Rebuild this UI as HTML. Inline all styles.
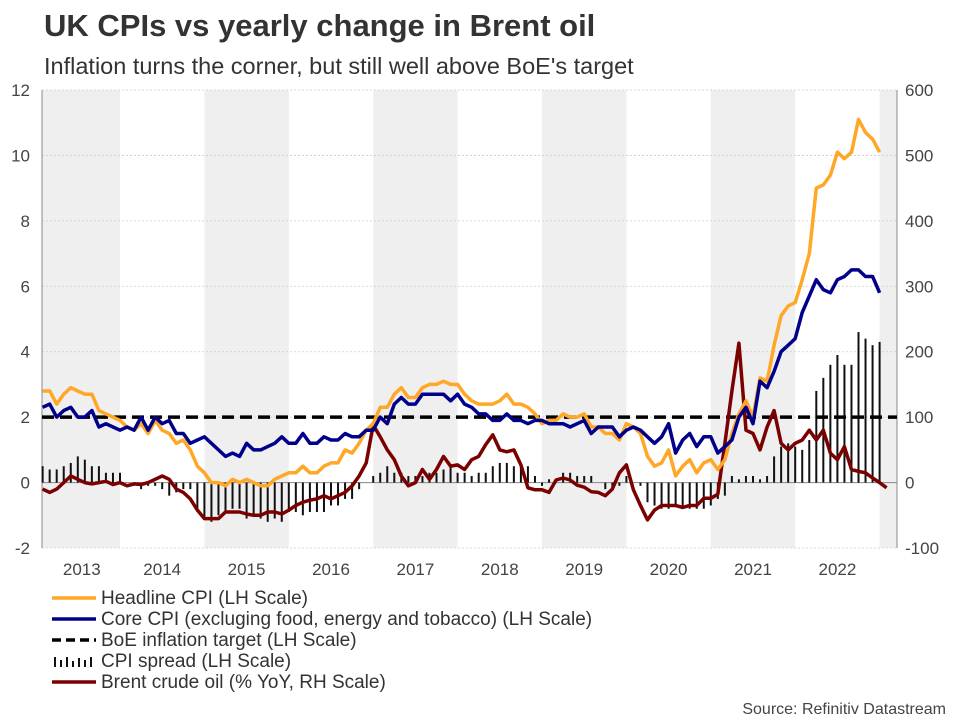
<!DOCTYPE html>
<html><head><meta charset="utf-8"><style>
body{margin:0;background:#fff;font-family:"Liberation Sans",Arial,sans-serif;}
#wrap{position:relative;width:960px;height:720px;overflow:hidden;}
</style></head><body>
<div id="wrap">
<svg id="chart" width="960" height="720" style="position:absolute;left:0;top:0;font-family:'Liberation Sans',Arial,sans-serif">
<text x="44" y="36" font-size="31" font-weight="bold" fill="#333">UK CPIs vs yearly change in Brent oil</text>
<text x="44" y="74" font-size="23.5" fill="#333">Inflation turns the corner, but still well above BoE's target</text>
<text x="946" y="714" font-size="16" fill="#444" text-anchor="end">Source: Refinitiv Datastream</text>
</svg>
</div>
<script>
// Monthly data, index 0 = Jan 2013
const years = ["2013","2014","2015","2016","2017","2018","2019","2020","2021","2022"];
const leftTicks = [-2,0,2,4,6,8,10,12];
const rightTicks = [-100,0,100,200,300,400,500,600];
const boeTarget = 2;
// Feb 2013 .. Jan 2023
const headline = [2.8,2.8,2.4,2.7,2.9,2.8,2.7,2.7,2.2,2.1,2.0,
1.9,1.7,1.6,1.8,1.5,1.9,1.6,1.5,1.2,1.3,1.0,0.5,
0.3,0.0,0.0,-0.1,0.1,0.0,0.1,0.0,-0.1,-0.1,0.1,0.2,
0.3,0.3,0.5,0.3,0.3,0.5,0.6,0.6,1.0,0.9,1.2,1.6,
1.8,2.3,2.3,2.7,2.9,2.6,2.6,2.9,3.0,3.0,3.1,3.0,
3.0,2.7,2.5,2.4,2.4,2.4,2.5,2.7,2.4,2.4,2.3,2.1,
1.8,1.9,1.9,2.1,2.0,2.0,2.1,1.7,1.7,1.5,1.5,1.3,
1.8,1.7,1.5,0.8,0.5,0.6,1.0,0.2,0.5,0.7,0.3,0.6,
0.7,0.4,0.7,1.5,2.1,2.5,2.0,3.2,3.1,4.2,5.1,5.4,
5.5,6.2,7.0,9.0,9.1,9.4,10.1,9.9,10.1,11.1,10.7,10.5,
10.1];
const core = [2.3,2.4,2.0,2.2,2.3,2.0,2.0,2.2,1.7,1.8,1.7,
1.6,1.7,1.6,2.0,1.6,2.0,1.8,1.9,1.5,1.5,1.2,1.3,
1.4,1.2,1.0,0.8,0.9,0.8,1.2,1.0,1.0,1.1,1.2,1.4,
1.2,1.2,1.5,1.2,1.2,1.4,1.3,1.3,1.5,1.4,1.4,1.6,
1.6,2.0,1.8,2.4,2.6,2.4,2.4,2.7,2.7,2.7,2.7,2.5,
2.7,2.4,2.3,2.1,2.1,1.9,1.9,2.1,1.9,1.9,1.8,1.9,
1.9,1.8,1.8,1.8,1.7,1.8,1.9,1.5,1.7,1.7,1.7,1.4,
1.6,1.7,1.6,1.4,1.2,1.4,1.8,0.9,1.3,1.5,1.1,1.4,
1.4,0.9,1.1,1.3,2.0,2.3,1.8,3.1,2.9,3.4,4.0,4.2,
4.4,5.2,5.7,6.2,5.9,5.8,6.2,6.3,6.5,6.5,6.3,6.3,
5.8];
// Brent % YoY, Feb 2013 .. Feb 2023
const brent = [-10,-15,-10,0,10,5,0,-2,0,2,-3,
0,-5,-2,-3,0,5,10,5,-10,-15,-25,-42,
-55,-55,-55,-45,-45,-45,-48,-50,-50,-45,-45,-48,
-42,-35,-30,-27,-25,-20,-25,-20,-15,-5,10,30,
88,70,50,35,10,-5,0,20,5,20,40,25,
27,20,35,40,58,73,50,47,50,27,-8,-11,
-11,-15,4,7,4,-4,-7,-14,-15,-20,-10,15,
27,-11,-35,-57,-42,-35,-35,-35,-38,-35,-35,-24,
-24,-18,60,140,213,80,75,50,85,110,60,50,
60,65,80,65,80,45,35,55,20,17,15,7,
0,-8];
const startIndex = 1; // Feb 2013

const svg = document.getElementById('chart');
const NS = 'http://www.w3.org/2000/svg';
const X0 = 35.6, YW = 84.4;
const PL = 42, PR = 897, PT = 90, PB = 548;
const xm = i => X0 + (i) * YW / 12;
const yL = v => PT + (12 - v) * (PB - PT) / 14;
const yR = v => PT + (600 - v) * (PB - PT) / 700;
function mk(tag, attrs, parent) {
  const e = document.createElementNS(NS, tag);
  for (const k in attrs) e.setAttribute(k, attrs[k]);
  (parent || svg).appendChild(e);
  return e;
}
const gBands = mk('g', {});


for (let y = 0; y <= 10; y += 2) {
  const x1 = Math.max(PL, X0 + y * YW), x2 = Math.min(PR, X0 + (y + 1) * YW);
  const r = mk('rect', {x: x1, y: PT, width: x2 - x1, height: PB - PT, fill: '#efefef'}, gBands);
  
  
}
leftTicks.forEach(v => {
  const l = mk('line', {x1: PL, x2: PR, y1: yL(v), y2: yL(v), stroke: '#ccc', 'stroke-dasharray': '2,2', 'stroke-width': 0.8});
  
  
  const t = mk('text', {x: 30, y: yL(v) + 6, 'font-size': 17, 'text-anchor': 'end', fill: '#444'});
  t.textContent = v;
  
  
});
rightTicks.forEach(v => {
  const t = mk('text', {x: 905, y: yR(v) + 6, 'font-size': 17, fill: '#444'});
  t.textContent = v;
  
  
});
years.forEach((yr, k) => {
  const t = mk('text', {x: X0 + (k + 0.5) * YW + (k === 0 ? 4 : 0), y: 575, 'font-size': 17, 'text-anchor': 'middle', fill: '#444'});
  t.textContent = yr;
  
  
});
const axL = mk('line', {x1: PL, x2: PL, y1: PT, y2: PB, stroke: '#888'});


const axR = mk('line', {x1: PR, x2: PR, y1: PT, y2: PB, stroke: '#888'});


const zl = mk('line', {x1: PL, x2: PR, y1: yL(0), y2: yL(0), stroke: '#888', 'stroke-width': 1});


const gBars = mk('g', {});


headline.forEach((h, i) => {
  const s = h - core[i];
  const x = xm(i + startIndex);
  const b = mk('rect', {x: x - 1, y: Math.min(yL(0), yL(s)), width: 2, height: Math.abs(yL(s) - yL(0)), fill: '#111'}, gBars);
  
  
});
const boe = mk('line', {x1: PL, x2: PR, y1: yL(boeTarget), y2: yL(boeTarget), stroke: '#000', 'stroke-width': 3.5, 'stroke-dasharray': '12,6'});


function series(arr, yf, color, name, start) {
  const d = arr.map((v, i) => (i ? 'L' : 'M') + xm(i + start).toFixed(1) + ',' + yf(v).toFixed(1)).join(' ');
  const p = mk('path', {d, fill: 'none', stroke: color, 'stroke-width': 3.5, 'stroke-linejoin': 'round'});
  
  
}
series(brent, yR, '#7b0000', 'brent-line', startIndex);
series(headline, yL, '#ffa726', 'headline-cpi-line', startIndex);
series(core, yL, '#00008b', 'core-cpi-line', startIndex);
const legend = [
  ['Headline CPI (LH Scale)', 'line', '#ffa726'],
  ['Core CPI (excluging food, energy and tobacco) (LH Scale)', 'line', '#00008b'],
  ['BoE inflation target (LH Scale)', 'dash', '#000'],
  ['CPI spread (LH Scale)', 'bars', '#111'],
  ['Brent crude oil (% YoY, RH Scale)', 'line', '#7b0000']
];
legend.forEach((e, k) => {
  const y = 598 + k * 21;
  const g = mk('g', {});
  
  
  if (e[1] === 'line') mk('line', {x1: 52, x2: 96, y1: y, y2: y, stroke: e[2], 'stroke-width': 3.5}, g);
  else if (e[1] === 'dash') mk('line', {x1: 52, x2: 96, y1: y, y2: y, stroke: e[2], 'stroke-width': 3.5, 'stroke-dasharray': '9,5'}, g);
  else { const hs = [10,7,10,6,9,7,10]; hs.forEach((hh, j) => mk('rect', {x: 54 + j * 6, y: y + 6 - hh, width: 2, height: hh, fill: e[2]}, g)); }
  const t = mk('text', {x: 101, y: y + 6, 'font-size': 19, fill: '#333'}, g);
  t.textContent = e[0];
});
</script>
</body></html>
